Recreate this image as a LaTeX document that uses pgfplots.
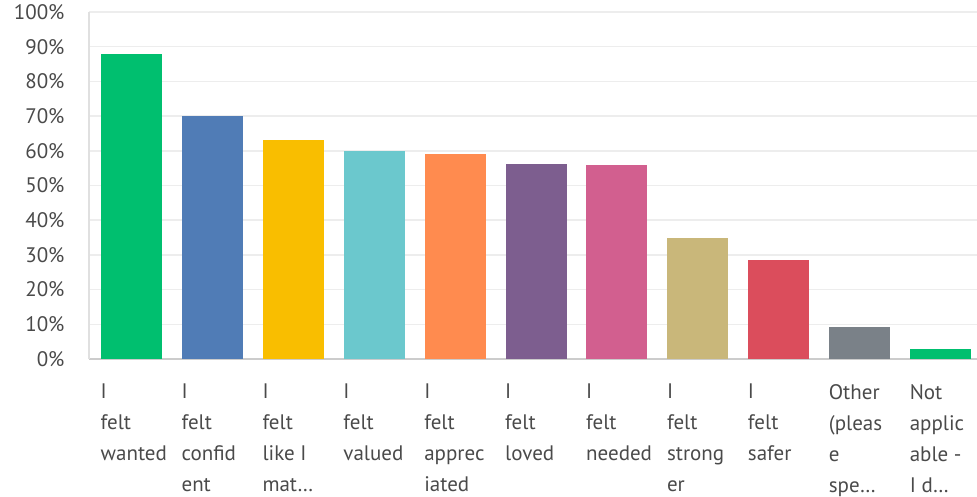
\documentclass[border=0pt]{standalone}
\usepackage{fontspec}
\setmainfont{PT Sans}
\usepackage{pgfplots}
\pgfplotsset{compat=1.18}

\definecolor{cGreen}{HTML}{00BF6F}
\definecolor{cBlue}{HTML}{507CB6}
\definecolor{cYellow}{HTML}{F9BE00}
\definecolor{cTeal}{HTML}{6BC8CD}
\definecolor{cOrange}{HTML}{FF8B4F}
\definecolor{cPurple}{HTML}{7D5E8F}
\definecolor{cPink}{HTML}{D25F8F}
\definecolor{cTan}{HTML}{C9B77A}
\definecolor{cRed}{HTML}{DB4D5C}
\definecolor{cGray}{HTML}{7A8188}
\definecolor{txt}{HTML}{4A4A4A}

\begin{document}
\begin{tikzpicture}
\begin{axis}[
    scale only axis,
    width=888pt, height=347pt,
    ybar, bar width=61pt, bar shift=0pt,
    xmin=-0.525, xmax=10.45,
    ymin=0, ymax=100,
    ytick={0,10,...,100},
    yticklabel={\pgfmathprintnumber{\tick}\%},
    /pgf/number format/assume math mode=true,
    xtick={0,1,2,3,4,5,6,7,8,9,10},
    xticklabels={
      {I\\felt\\wanted},
      {I\\felt\\confid\\ent},
      {I\\felt\\like I\\mat\ldots},
      {I\\felt\\valued},
      {I\\felt\\apprec\\iated},
      {I\\felt\\loved},
      {I\\felt\\needed},
      {I\\felt\\strong\\er},
      {I\\felt\\safer},
      {Other\\(pleas\\e\\spe\ldots},
      {Not\\applic\\able -\\I d\ldots}},
    xticklabel style={align=left, anchor=north west, xshift=-31pt, yshift=-25pt,
      font=\fontsize{21}{31}\selectfont, text=txt, inner sep=0pt},
    yticklabel style={font=\fontsize{21}{24}\selectfont, text=txt, xshift=-21pt},
    major tick length=0pt,
    ymajorgrids,
    grid style={draw=black!7, line width=1.5pt},
    axis x line=bottom, axis y line=left,
    x axis line style={draw=black!20, line width=1.5pt, -},
    y axis line style={draw=black!12, line width=1.5pt, -},
]
\addplot[fill=cGreen, draw=none] coordinates {(0,87.9)};
\addplot[fill=cBlue, draw=none] coordinates {(1,70.0)};
\addplot[fill=cYellow, draw=none] coordinates {(2,63.1)};
\addplot[fill=cTeal, draw=none] coordinates {(3,59.9)};
\addplot[fill=cOrange, draw=none] coordinates {(4,59.1)};
\addplot[fill=cPurple, draw=none] coordinates {(5,56.2)};
\addplot[fill=cPink, draw=none] coordinates {(6,55.9)};
\addplot[fill=cTan, draw=none] coordinates {(7,34.9)};
\addplot[fill=cRed, draw=none] coordinates {(8,28.5)};
\addplot[fill=cGray, draw=none] coordinates {(9,9.2)};
\addplot[fill=cGreen, draw=none] coordinates {(10,2.9)};
\end{axis}
\pgfresetboundingbox
\path (current axis.south west) ++(-89pt,-137pt) rectangle ++(977pt,496pt);
\end{tikzpicture}
\end{document}
